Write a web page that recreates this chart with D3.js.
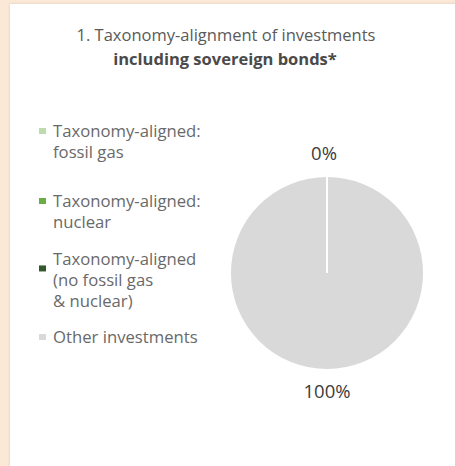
<!DOCTYPE html>
<html>
<head>
<meta charset="utf-8">
<script src="https://cdn.jsdelivr.net/npm/d3@7"></script>
<style>
  html, body { margin: 0; padding: 0; background: #fbe8d7; }
  svg { display: block; font-family: "Open Sans", sans-serif; }
</style>
</head>
<body>
<svg id="chart" width="455" height="466"></svg>
<script>
// Taxonomy-alignment breakdown (percent of investments, incl. sovereign bonds)
const categories = [
  "Taxonomy-aligned: fossil gas",
  "Taxonomy-aligned: nuclear",
  "Taxonomy-aligned (no fossil gas & nuclear)",
  "Other investments"
];
const values = [0, 0, 0, 100];
const legendLines = [
  ["Taxonomy-aligned:", "fossil gas"],
  ["Taxonomy-aligned:", "nuclear"],
  ["Taxonomy-aligned", "(no fossil gas", "& nuclear)"],
  ["Other investments"]
];
const colors = ["#bcdcae", "#6aad45", "#33582a", "#d9d9d9"];
const titleLines = ["1. Taxonomy-alignment of investments", "including sovereign bonds*"];

const svg = d3.select("#chart");

// soft shadow under the white card
const defs = svg.append("defs");
const f = defs.append("filter").attr("id", "shadow")
  .attr("x", "-5%").attr("y", "-5%").attr("width", "110%").attr("height", "110%");
f.append("feDropShadow").attr("dx", 0).attr("dy", 0).attr("stdDeviation", 1.5)
  .attr("flood-color", "#000").attr("flood-opacity", 0.12);

svg.append("rect").attr("width", 455).attr("height", 466).attr("fill", "#fbe8d7");
svg.append("rect").attr("x", 10).attr("y", 4).attr("width", 460).attr("height", 480)
  .attr("fill", "#ffffff").attr("filter", "url(#shadow)");

// title
svg.append("text").attr("x", 226).attr("y", 41).attr("text-anchor", "middle")
  .attr("font-size", 16.5).attr("fill", "#5a5a5a").text(titleLines[0]);
svg.append("text").attr("x", 225).attr("y", 65).attr("text-anchor", "middle")
  .attr("font-size", 16.5).attr("font-weight", "bold").attr("fill", "#4a4a4a").text(titleLines[1]);

// legend
const legendTop = [131, 201, 259, 337];
const lineH = 21;
const legend = svg.append("g");
legendLines.forEach((lines, i) => {
  const g = legend.append("g");
  const midY = legendTop[i] + (lines.length > 2 ? lineH * 0.45 : 0);
  g.append("rect").attr("x", 39).attr("y", midY - 3).attr("width", 7).attr("height", 6)
    .attr("fill", colors[i]);
  const t = g.append("text").attr("font-size", 16.7).attr("fill", "#696969");
  lines.forEach((ln, j) => {
    t.append("tspan").attr("x", 53).attr("y", legendTop[i] + j * lineH)
      .attr("dy", "0.35em").text(ln);
  });
});

// pie
const cx = 327, cy = 273, r = 97;
const pie = d3.pie().sort(null).value(d => d);
const arcs = pie(values);
const arc = d3.arc().innerRadius(0).outerRadius(r);
const pg = svg.append("g").attr("transform", `translate(${cx},${cy})`);
pg.selectAll("path").data(arcs.slice().reverse()).join("path")
  .attr("d", arc)
  .attr("fill", (d) => colors[d.index])
  .attr("stroke", "#ffffff").attr("stroke-width", 2);

// value labels: aligned total at its slice angle, other investments at its slice mid-angle
const alignedTotal = d3.sum(values.slice(0, 3));
const labelArc = d3.arc().innerRadius(119).outerRadius(119);
const labels = [
  { text: alignedTotal + "%", a: arcs[2], dx: -3 },
  { text: values[3] + "%", a: arcs[3], dx: 0 }
];
pg.selectAll("text.val").data(labels).join("text").attr("class", "val")
  .attr("transform", d => `translate(${labelArc.centroid(d.a)})`)
  .attr("text-anchor", "middle").attr("dx", d => d.dx).attr("dy", "0.35em")
  .attr("font-size", 18.5).attr("fill", "#3c3c3c")
  .text(d => d.text);
</script>
</body>
</html>
